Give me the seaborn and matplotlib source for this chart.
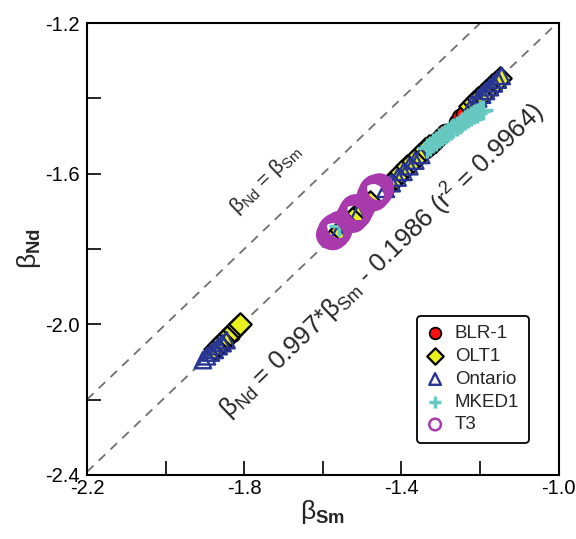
import matplotlib
matplotlib.use("Agg")
import matplotlib.pyplot as plt
import seaborn as sns
import pandas as pd
import numpy as np

# ---- data ----
blr_x = [-1.860, -1.850, -1.840, -1.830, -1.555, -1.540, -1.525, -1.510, -1.335, -1.325, -1.318, -1.310, -1.300, -1.290, -1.260, -1.250, -1.240, -1.200, -1.180, -1.160]
blr_y = [-2.055, -2.045, -2.035, -2.025, -1.750, -1.735, -1.720, -1.705, -1.535, -1.525, -1.518, -1.510, -1.500, -1.490, -1.462, -1.450, -1.440, -1.395, -1.376, -1.355]

olt_x = [-1.875, -1.865, -1.855, -1.845, -1.835, -1.825, -1.815, -1.810, -1.570, -1.555, -1.540, -1.525, -1.510, -1.495, -1.480, -1.430, -1.415, -1.400, -1.385, -1.370, -1.355, -1.340, -1.330, -1.225, -1.215, -1.205, -1.195, -1.185, -1.170, -1.160, -1.150]
olt_y = [-2.065, -2.055, -2.045, -2.035, -2.025, -2.015, -2.005, -2.000, -1.765, -1.750, -1.735, -1.720, -1.705, -1.690, -1.675, -1.625, -1.610, -1.595, -1.580, -1.565, -1.550, -1.535, -1.525, -1.420, -1.410, -1.400, -1.390, -1.380, -1.365, -1.355, -1.345]

ont_x = [-1.905, -1.895, -1.885, -1.875, -1.865, -1.855, -1.845, -1.560, -1.510, -1.440, -1.425, -1.410, -1.395, -1.380, -1.365, -1.350, -1.220, -1.205, -1.195, -1.185, -1.175, -1.165, -1.155, -1.145]
ont_y = [-2.095, -2.085, -2.075, -2.068, -2.058, -2.050, -2.042, -1.755, -1.705, -1.640, -1.625, -1.610, -1.595, -1.580, -1.565, -1.550, -1.415, -1.400, -1.390, -1.380, -1.370, -1.360, -1.350, -1.340]

mked_x = [-1.560, -1.545, -1.335, -1.328, -1.320, -1.312, -1.305, -1.298, -1.290, -1.282, -1.275, -1.268, -1.260, -1.252, -1.245, -1.238, -1.230, -1.222, -1.215, -1.208, -1.200, -1.192]
mked_y = [-1.740, -1.725, -1.532, -1.525, -1.518, -1.512, -1.505, -1.500, -1.494, -1.488, -1.483, -1.478, -1.472, -1.467, -1.462, -1.457, -1.452, -1.447, -1.442, -1.438, -1.434, -1.430]

t3_x = [-1.580, -1.576, -1.572, -1.568, -1.565, -1.561, -1.558, -1.574, -1.566, -1.562, -1.570, -1.569, -1.575, -1.563,
        -1.530, -1.526, -1.522, -1.518, -1.514, -1.510, -1.506, -1.524, -1.516, -1.520, -1.518, -1.519, -1.523, -1.513,
        -1.476, -1.472, -1.468, -1.464, -1.460, -1.456, -1.470, -1.462, -1.466, -1.467, -1.471, -1.461]
t3_y = [-1.762, -1.758, -1.754, -1.750, -1.746, -1.742, -1.738, -1.764, -1.756, -1.744, -1.745, -1.760, -1.750, -1.752,
        -1.716, -1.712, -1.708, -1.704, -1.700, -1.696, -1.692, -1.718, -1.702, -1.698, -1.694, -1.712, -1.702, -1.706,
        -1.658, -1.654, -1.650, -1.646, -1.642, -1.638, -1.660, -1.644, -1.641, -1.656, -1.646, -1.650]

series_names = ["BLR-1", "OLT1", "Ontario", "MKED1", "T3"]

slope, intercept = 0.997, -0.1986
x_ticks = [-2.2, -1.8, -1.4, -1.0]
y_ticks = [-2.4, -2.0, -1.6, -1.2]

# ---- figure ----
sns.set_style("ticks")
plt.rcParams["font.family"] = ["Liberation Sans", "DejaVu Sans"]
plt.rcParams["mathtext.fontset"] = "custom"
plt.rcParams["mathtext.rm"] = "Liberation Sans"
plt.rcParams["mathtext.it"] = "Liberation Sans:italic"
plt.rcParams["mathtext.bf"] = "Liberation Sans:bold"
plt.rcParams["mathtext.sf"] = "Liberation Sans"

fig = plt.figure(figsize=(5.76, 5.39), dpi=100)
ax = fig.add_axes([0.151, 0.119, 0.819, 0.838])

# reference lines
xx = np.array([-2.2, -1.0])
ax.plot(xx, xx, ls=(0, (5, 4)), color="#707070", lw=1.3, zorder=1)
ax.plot(xx, slope * xx + intercept, ls=(0, (5, 4)), color="#707070", lw=1.3, zorder=1)

styles = {
    "BLR-1": dict(marker="o", s=130, color="#ff1010", edgecolor="black", linewidth=1.3),
    "OLT1": dict(marker="D", s=130, color="#e8f020", edgecolor="black", linewidth=1.6),
    "Ontario": dict(marker="^", s=140, facecolor="none", edgecolor="#283593", linewidth=1.7),
    "MKED1": dict(marker="+", s=200, color="#66c8c0", linewidth=2.5),
    "T3": dict(marker="o", s=380, facecolor="none", edgecolor="#a83aae", linewidth=1.8),
}
data = {
    "BLR-1": (blr_x, blr_y),
    "OLT1": (olt_x, olt_y),
    "Ontario": (ont_x, ont_y),
    "MKED1": (mked_x, mked_y),
    "T3": (t3_x, t3_y),
}
for i, name in enumerate(series_names):
    xs, ys = data[name]
    df = pd.DataFrame({"x": xs, "y": ys})
    sns.scatterplot(data=df, x="x", y="y", ax=ax, label=name, zorder=2 + i, **styles[name])

ax.set_xlim(-2.2, -1.0)
ax.set_ylim(-2.4, -1.2)
ax.set_xticks(x_ticks)
ax.set_yticks(y_ticks)
ax.set_xticklabels([f"{v:.1f}" for v in x_ticks])
ax.set_yticklabels([f"{v:.1f}" for v in y_ticks])
ax.set_xticks([-2.0, -1.6, -1.2], minor=True)
ax.set_yticks([-2.2, -1.8, -1.4], minor=True)
ax.tick_params(which="both", direction="in", length=10, width=1.2, labelsize=14.5, colors="black")
ax.tick_params(axis="x", pad=3)
ax.tick_params(axis="y", pad=5)
for sp in ax.spines.values():
    sp.set_linewidth(1.5)
    sp.set_color("black")

ax.set_xlabel(r"$\mathregular{\beta}_{\mathbf{Sm}}$", fontsize=19, labelpad=0)
ax.set_ylabel(r"$\mathregular{\beta}_{\mathbf{Nd}}$", fontsize=19, labelpad=2)

ax.text(-1.745, -1.615, r"$\mathregular{\beta_{Nd}}$ = $\mathregular{\beta_{Sm}}$",
        rotation=44, ha="center", va="center", fontsize=15, rotation_mode="anchor")
ax.text(-1.450, -1.830,
        r"$\mathregular{\beta_{Nd}}$ = 0.997*$\mathregular{\beta_{Sm}}$ - 0.1986 (r$\mathregular{^2}$ = 0.9964)",
        rotation=44, ha="center", va="center", fontsize=18.5, rotation_mode="anchor")

leg = ax.legend(loc="lower right", bbox_to_anchor=(0.936, 0.071), frameon=True, fancybox=True,
                fontsize=13.5, handletextpad=0.6, labelspacing=0.3,
                borderpad=0.5, handlelength=0.9, borderaxespad=0)
leg.get_frame().set_edgecolor("black")
leg.get_frame().set_linewidth(1.3)
leg.get_frame().set_alpha(1)
for h in leg.legend_handles:
    try:
        h.set_sizes([70])
    except Exception:
        pass

fig.savefig("out.png", dpi=100)
